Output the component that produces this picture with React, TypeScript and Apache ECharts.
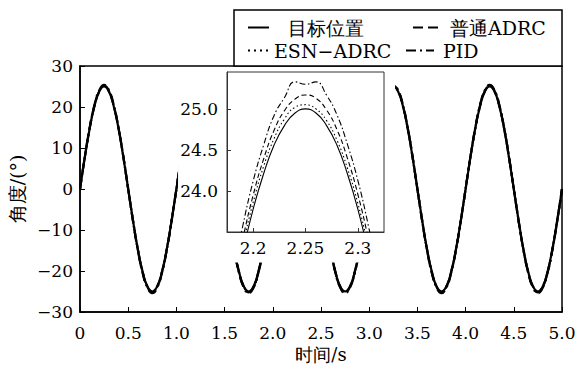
import React, { useEffect, useRef } from "react";
import * as echarts from "echarts";

// ---------- data ----------
const TIME = [
  0, 0.05, 0.1, 0.15, 0.2, 0.25, 0.3, 0.35, 0.4, 0.45,
  0.5, 0.55, 0.6, 0.65, 0.7, 0.75, 0.8, 0.85, 0.9, 0.95,
  1.0, 1.05, 1.1, 1.15, 1.2, 1.25, 1.3, 1.35, 1.4, 1.45,
  1.5, 1.55, 1.6, 1.65, 1.7, 1.75, 1.8, 1.85, 1.9, 1.95,
  2.0, 2.05, 2.1, 2.15, 2.2, 2.25, 2.3, 2.35, 2.4, 2.45,
  2.5, 2.55, 2.6, 2.65, 2.7, 2.75, 2.8, 2.85, 2.9, 2.95,
  3.0, 3.05, 3.1, 3.15, 3.2, 3.25, 3.3, 3.35, 3.4, 3.45,
  3.5, 3.55, 3.6, 3.65, 3.7, 3.75, 3.8, 3.85, 3.9, 3.95,
  4.0, 4.05, 4.1, 4.15, 4.2, 4.25, 4.3, 4.35, 4.4, 4.45,
  4.5, 4.55, 4.6, 4.65, 4.7, 4.75, 4.8, 4.85, 4.9, 4.95,
  5.0,
];

const TARGET = [
  0, 7.7, 14.7, 20.2, 23.8, 25.0, 23.8, 20.2, 14.7, 7.7,
  0, -7.7, -14.7, -20.2, -23.8, -25.0, -23.8, -20.2, -14.7, -7.7,
  0, 7.7, 14.7, 20.2, 23.8, 25.0, 23.8, 20.2, 14.7, 7.7,
  0, -7.7, -14.7, -20.2, -23.8, -25.0, -23.8, -20.2, -14.7, -7.7,
  0, 7.7, 14.7, 20.2, 23.8, 25.0, 23.8, 20.2, 14.7, 7.7,
  0, -7.7, -14.7, -20.2, -23.8, -25.0, -23.8, -20.2, -14.7, -7.7,
  0, 7.7, 14.7, 20.2, 23.8, 25.0, 23.8, 20.2, 14.7, 7.7,
  0, -7.7, -14.7, -20.2, -23.8, -25.0, -23.8, -20.2, -14.7, -7.7,
  0, 7.7, 14.7, 20.2, 23.8, 25.0, 23.8, 20.2, 14.7, 7.7,
  0, -7.7, -14.7, -20.2, -23.8, -25.0, -23.8, -20.2, -14.7, -7.7,
  0,
];

const ADRC = [
  0, 7.8, 14.8, 20.4, 23.9, 25.2, 23.9, 20.3, 14.8, 7.8,
  0, -7.8, -14.8, -20.4, -23.9, -25.2, -23.9, -20.3, -14.8, -7.8,
  0, 7.8, 14.8, 20.4, 23.9, 25.2, 23.9, 20.3, 14.8, 7.8,
  0, -7.8, -14.8, -20.4, -23.9, -25.2, -23.9, -20.3, -14.8, -7.8,
  0, 7.8, 14.8, 20.4, 23.9, 25.2, 23.9, 20.3, 14.8, 7.8,
  0, -7.8, -14.8, -20.4, -23.9, -25.2, -23.9, -20.3, -14.8, -7.8,
  0, 7.8, 14.8, 20.4, 23.9, 25.2, 23.9, 20.3, 14.8, 7.8,
  0, -7.8, -14.8, -20.4, -23.9, -25.2, -23.9, -20.3, -14.8, -7.8,
  0, 7.8, 14.8, 20.4, 23.9, 25.2, 23.9, 20.3, 14.8, 7.8,
  0, -7.8, -14.8, -20.4, -23.9, -25.2, -23.9, -20.3, -14.8, -7.8,
  0,
];

const ESN = [
  0, 7.7, 14.7, 20.3, 23.8, 25.1, 23.8, 20.3, 14.7, 7.7,
  0, -7.7, -14.7, -20.3, -23.8, -25.1, -23.8, -20.3, -14.7, -7.7,
  0, 7.7, 14.7, 20.3, 23.8, 25.1, 23.8, 20.3, 14.7, 7.7,
  0, -7.7, -14.7, -20.3, -23.8, -25.1, -23.8, -20.3, -14.7, -7.7,
  0, 7.7, 14.7, 20.3, 23.8, 25.1, 23.8, 20.3, 14.7, 7.7,
  0, -7.7, -14.7, -20.3, -23.8, -25.1, -23.8, -20.3, -14.7, -7.7,
  0, 7.7, 14.7, 20.3, 23.8, 25.1, 23.8, 20.3, 14.7, 7.7,
  0, -7.7, -14.7, -20.3, -23.8, -25.1, -23.8, -20.3, -14.7, -7.7,
  0, 7.7, 14.7, 20.3, 23.8, 25.1, 23.8, 20.3, 14.7, 7.7,
  0, -7.7, -14.7, -20.3, -23.8, -25.1, -23.8, -20.3, -14.7, -7.7,
  0,
];

const PID = [
  0, 7.9, 14.9, 20.5, 24.1, 25.4, 24.1, 20.5, 14.9, 7.9,
  0, -7.9, -14.9, -20.5, -24.1, -25.4, -24.1, -20.5, -14.9, -7.9,
  0, 7.9, 14.9, 20.5, 24.1, 25.4, 24.1, 20.5, 14.9, 7.9,
  0, -7.9, -14.9, -20.5, -24.1, -25.4, -24.1, -20.5, -14.9, -7.9,
  0, 7.9, 14.9, 20.5, 24.1, 25.4, 24.1, 20.5, 14.9, 7.9,
  0, -7.9, -14.9, -20.5, -24.1, -25.4, -24.1, -20.5, -14.9, -7.9,
  0, 7.9, 14.9, 20.5, 24.1, 25.4, 24.1, 20.5, 14.9, 7.9,
  0, -7.9, -14.9, -20.5, -24.1, -25.4, -24.1, -20.5, -14.9, -7.9,
  0, 7.9, 14.9, 20.5, 24.1, 25.4, 24.1, 20.5, 14.9, 7.9,
  0, -7.9, -14.9, -20.5, -24.1, -25.4, -24.1, -20.5, -14.9, -7.9,
  0,
];

// zoomed-in inset (around the peak at t = 2.25 s)
const INSET_TIME = [
  2.17, 2.18, 2.19, 2.2, 2.21, 2.22, 2.23, 2.24, 2.25,
  2.26, 2.27, 2.28, 2.29, 2.3, 2.31, 2.32, 2.33,
];
const INSET_TARGET = [
  21.91, 22.62, 23.25, 23.78, 24.21, 24.56, 24.8, 24.95, 25.0,
  24.95, 24.8, 24.56, 24.21, 23.78, 23.25, 22.62, 21.91,
];
const INSET_ESN = [
  21.99, 22.7, 23.33, 23.86, 24.3, 24.64, 24.88, 25.02, 25.05,
  25.0, 24.86, 24.62, 24.28, 23.85, 23.31, 22.68, 21.98,
];
const INSET_ADRC = [
  22.06, 22.78, 23.41, 23.95, 24.39, 24.74, 24.98, 25.12, 25.17,
  25.13, 24.99, 24.75, 24.4, 23.96, 23.42, 22.79, 22.07,
];
const INSET_PID = [
  22.2, 22.93, 23.57, 24.12, 24.56, 24.92, 25.14, 25.33, 25.3,
  25.33, 25.17, 24.93, 24.57, 24.13, 23.58, 22.95, 22.22,
];

const X_TICKS_INSET = [2.2, 2.25, 2.3];
const Y_TICKS_INSET = [24.0, 24.5, 25.0];

const NAMES = ["目标位置", "普通ADRC", "ESN−ADRC", "PID"];
const X_NAME = "时间/s";
const Y_NAME = "角度/(°)";

// region of the main plot hidden behind the inset's white panel
const COVER_T = [1.017, 3.268];
const COVER_V = -17.9;

// ---------- styles ----------
const FONT = "DejaVu Serif";
const DASH_MAIN: any[] = ["solid", [10, 5], [2, 4], [10, 4, 2, 4]];
const DASH_INSET: any[] = ["solid", [5, 3], [1.5, 2.5], [6, 2.5, 1.5, 2.5]];

const pairs = (xs: number[], ys: number[]) => xs.map((x, i) => [x, ys[i]]);

export default function App() {
  const ref = useRef<HTMLDivElement>(null);

  useEffect(() => {
    document.body.style.margin = "0";
    if (!ref.current) return;
    const chart = echarts.init(ref.current, null, { renderer: "svg" });

    const mainData = [TARGET, ADRC, ESN, PID];
    const insetData = [INSET_TARGET, INSET_ADRC, INSET_ESN, INSET_PID];

    const mainSeries = NAMES.map((name, i) => ({
      name,
      type: "line",
      xAxisIndex: 0,
      yAxisIndex: 0,
      data: pairs(TIME, mainData[i]),
      smooth: true,
      symbol: "none",
      showSymbol: false,
      z: 2,
      lineStyle: { color: "#000", width: 2.2, type: DASH_MAIN[i] },
      itemStyle: { color: "#000" },
    }));

    const insetSeries = NAMES.map((name, i) => ({
      name,
      type: "line",
      xAxisIndex: 1,
      yAxisIndex: 1,
      data: pairs(INSET_TIME, insetData[i]),
      smooth: true,
      symbol: "none",
      showSymbol: false,
      clip: true,
      z: 6,
      lineStyle: { color: "#000", width: 1.1, type: DASH_INSET[i] },
      itemStyle: { color: "#000" },
    }));

    const legendPos = [
      { left: 247, top: 18, w: 21, pad: 14 },
      { left: 412, top: 18, w: 30, pad: 2 },
      { left: 247, top: 41, w: 21, pad: 0 },
      { left: 405, top: 41, w: 28, pad: 4 },
    ];

    const legends = NAMES.map((name, i) => ({
      show: true,
      data: [name],
      left: legendPos[i].left,
      top: legendPos[i].top,
      padding: 0,
      itemWidth: legendPos[i].w,
      itemHeight: 14,
      selectedMode: false,
      z: 8,
      itemStyle: { color: "transparent", borderColor: "transparent", borderWidth: 0, opacity: 0 },
      lineStyle: { color: "#000", width: 2, type: DASH_MAIN[i] },
      textStyle: {
        fontFamily: FONT,
        fontSize: 19,
        color: "#000",
        padding: [0, 0, 0, legendPos[i].pad],
      },
    }));

    const axisText = { fontFamily: FONT, fontSize: 17, color: "#000" };

    chart.setOption({
      animation: false,
      backgroundColor: "#fff",
      legend: legends,
      grid: [
        {
          left: 80,
          top: 66,
          right: 13,
          bottom: 53,
          show: true,
          borderColor: "#000",
          borderWidth: 1.5,
          backgroundColor: "transparent",
          containLabel: false,
          outerBoundsMode: "none",
          z: 1,
        },
        {
          left: 227,
          top: 72,
          width: 157,
          height: 160,
          show: true,
          borderColor: "#333",
          borderWidth: 1,
          backgroundColor: "transparent",
          containLabel: false,
          outerBoundsMode: "none",
          z: 5,
        },
      ],
      xAxis: [
        {
          gridIndex: 0,
          type: "value",
          min: 0,
          max: 5,
          interval: 0.5,
          z: 1,
          name: X_NAME,
          nameLocation: "middle",
          nameGap: 29,
          nameTextStyle: { fontFamily: FONT, fontSize: 18, color: "#000" },
          axisLine: { show: true, onZero: false, lineStyle: { color: "#000", width: 1.5 } },
          axisTick: { show: true, inside: true, length: 5, lineStyle: { color: "#000", width: 1 } },
          axisLabel: {
            ...axisText,
            margin: 12,
            formatter: (v: number) => (v === 0 ? "0" : v.toFixed(1)),
          },
          splitLine: { show: false },
        },
        {
          gridIndex: 1,
          type: "value",
          min: 2.175,
          max: 2.325,
          z: 5,
          axisLine: { show: true, onZero: false, lineStyle: { color: "#333", width: 1 } },
          axisTick: {
            show: true,
            inside: true,
            length: 4,
            customValues: X_TICKS_INSET,
            lineStyle: { color: "#333", width: 1 },
          },
          axisLabel: {
            ...axisText,
            margin: 7,
            customValues: X_TICKS_INSET,
            formatter: (v: number) => String(v),
          },
          splitLine: { show: false },
        },
      ],
      yAxis: [
        {
          gridIndex: 0,
          type: "value",
          min: -30,
          max: 30,
          interval: 10,
          z: 1,
          name: Y_NAME,
          nameLocation: "middle",
          nameGap: 35,
          nameRotate: 90,
          nameTextStyle: { fontFamily: FONT, fontSize: 19, color: "#000" },
          axisLine: { show: true, onZero: false, lineStyle: { color: "#000", width: 1.5 } },
          axisTick: { show: true, inside: true, length: 5, lineStyle: { color: "#000", width: 1 } },
          axisLabel: {
            ...axisText,
            margin: 7,
            formatter: (v: number) => (v < 0 ? "−" + Math.abs(v) : String(v)),
          },
          splitLine: { show: false },
        },
        {
          gridIndex: 1,
          type: "value",
          min: 23.5,
          max: 25.45,
          z: 5,
          axisLine: { show: true, onZero: false, lineStyle: { color: "#333", width: 1 } },
          axisTick: {
            show: true,
            inside: true,
            length: 4,
            customValues: Y_TICKS_INSET,
            lineStyle: { color: "#333", width: 1 },
          },
          axisLabel: {
            ...axisText,
            margin: 9,
            customValues: Y_TICKS_INSET,
            formatter: (v: number) => v.toFixed(1),
          },
          splitLine: { show: false },
        },
      ],
      series: [...mainSeries, ...insetSeries],
    });

    // white panel behind the inset + legend box, positioned through the main axes
    const pA = chart.convertToPixel({ gridIndex: 0 }, [COVER_T[0], 30]) as number[];
    const pB = chart.convertToPixel({ gridIndex: 0 }, [COVER_T[1], COVER_V]) as number[];
    const pR = chart.convertToPixel({ gridIndex: 0 }, [5, 30]) as number[];
    const coverTop = pA[1] + 1;
    const legendLeft = 234;
    const legendTop = 10;

    chart.setOption({
      graphic: {
        elements: [
          {
            type: "rect",
            z: 3,
            silent: true,
            shape: { x: pA[0], y: coverTop, width: pB[0] - pA[0], height: pB[1] - coverTop },
            style: { fill: "#fff", stroke: null },
          },
          {
            type: "rect",
            z: 7,
            silent: true,
            shape: {
              x: legendLeft,
              y: legendTop,
              width: pR[0] - legendLeft,
              height: pR[1] - legendTop,
            },
            style: { fill: "#fff", stroke: "#000", lineWidth: 1.5 },
          },
        ],
      },
    });

    return () => chart.dispose();
  }, []);

  return <div ref={ref} style={{ width: 575, height: 365 }} />;
}
